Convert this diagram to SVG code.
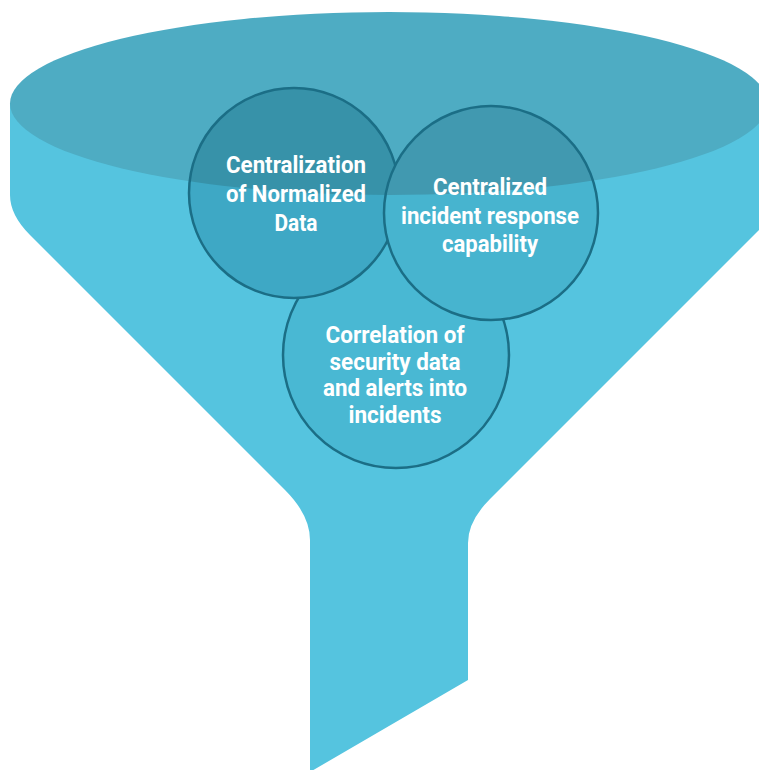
<svg xmlns="http://www.w3.org/2000/svg" width="759" height="770" viewBox="0 0 759 770">
  <style>
    .body { fill: #55C4DF; }
    .rim { fill: #4EACC3; }
    .ring { stroke: #1B6E86; stroke-width: 2.5; }
    .label { font-family: Roboto, "Liberation Sans", sans-serif; font-weight: 700; font-size: 24px; fill: #FFFFFF; text-anchor: middle; }
  </style>
  <defs>
    <clipPath id="rimClip">
      <ellipse cx="389" cy="103.5" rx="379" ry="91.5"/>
    </clipPath>
  </defs>

  <!-- funnel -->
  <g id="funnel">
    <path class="body" d="M10,103 L10,195 Q10,215 30,235 L285,490 Q310,515 310,540 L310,772 L468,680 L468,543 Q468,521 490,499 L758,231 Q768,221 768,205 L768,103 Z"/>
    <ellipse class="rim" cx="389" cy="103.5" rx="379" ry="91.5"/>
  </g>

  <!-- correlation circle (lowest) -->
  <g id="node-correlation">
    <circle class="ring" cx="396" cy="355" r="113" fill="#49B8D3"/>
    <text class="label" x="395" y="343" textLength="139" lengthAdjust="spacingAndGlyphs">Correlation of</text>
    <text class="label" x="395" y="370" textLength="131" lengthAdjust="spacingAndGlyphs">security data</text>
    <text class="label" x="395" y="396" textLength="144" lengthAdjust="spacingAndGlyphs">and alerts into</text>
    <text class="label" x="395" y="423" textLength="93" lengthAdjust="spacingAndGlyphs">incidents</text>
  </g>

  <!-- normalized data circle -->
  <g id="node-normalized">
    <circle cx="294" cy="193" r="105" fill="#3EA8C5"/>
    <circle cx="294" cy="193" r="105" fill="#3792A9" clip-path="url(#rimClip)"/>
    <circle class="ring" cx="294" cy="193" r="105" fill="none"/>
    <text class="label" x="296" y="173" textLength="140" lengthAdjust="spacingAndGlyphs">Centralization</text>
    <text class="label" x="296" y="202" textLength="140" lengthAdjust="spacingAndGlyphs">of Normalized</text>
    <text class="label" x="296" y="231" textLength="43" lengthAdjust="spacingAndGlyphs">Data</text>
  </g>

  <!-- incident response circle (top) -->
  <g id="node-response">
    <circle cx="491" cy="213" r="107" fill="#47B4CF"/>
    <circle cx="491" cy="213" r="107" fill="#4199B0" clip-path="url(#rimClip)"/>
    <circle class="ring" cx="491" cy="213" r="107" fill="none"/>
    <text class="label" x="490" y="195" textLength="114" lengthAdjust="spacingAndGlyphs">Centralized</text>
    <text class="label" x="490" y="224" textLength="178" lengthAdjust="spacingAndGlyphs">incident response</text>
    <text class="label" x="490" y="252" textLength="96" lengthAdjust="spacingAndGlyphs">capability</text>
  </g>

  <g id="connectors"/>
</svg>
